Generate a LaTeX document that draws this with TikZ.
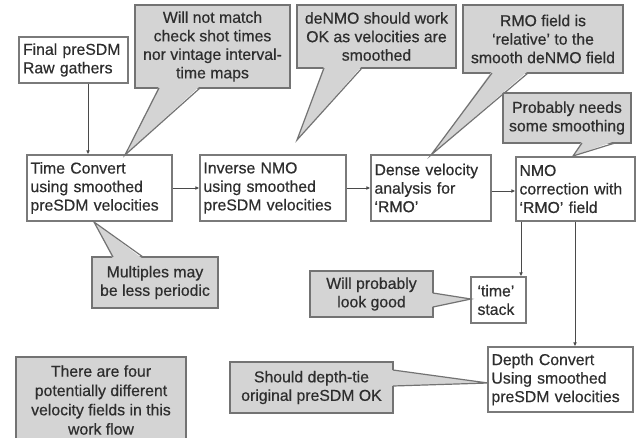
\documentclass[tikz,border=0pt]{standalone}
\usepackage{fontspec}
\setmainfont{Liberation Sans}[FakeBold=0.5]
\usetikzlibrary{arrows.meta,calc}
\definecolor{txt}{HTML}{2E2E2E}
\definecolor{bord}{HTML}{7A7A7A}
\definecolor{cfill}{HTML}{D4D4D4}
\definecolor{cbord}{HTML}{737373}
\definecolor{lin}{HTML}{4A4A4A}
\begin{document}
\begin{tikzpicture}[x=1pt,y=-1pt,
  every node/.style={font=\fontsize{15.8}{18.5}\selectfont, text=txt},
  flowbox/.style={draw=bord, line width=1.2pt, fill=white, inner sep=3pt, align=left},
  callout/.style={draw=cbord, line width=1.2pt, fill=cfill, inner sep=2pt, align=center},
  wedgefill/.style={fill=cfill},
  wedgeline/.style={draw=cbord, line width=1.2pt, line join=miter},
  arr/.style={draw=lin, line width=1pt, -{Latex[length=4pt,width=3.8pt]}}]
\fill[white] (0,0) rectangle (638,437);
\useasboundingbox (0,0) rectangle (638,437);

% flow boxes
\node[flowbox, minimum width=109, minimum height=46, text width=101] (raw) at (73.5,60) {Final preSDM\\Raw gathers};
\node[flowbox, minimum width=145, minimum height=66, text width=138] (tc) at (99.5,188) {Time Convert\\using smoothed\\preSDM velocities};
\node[flowbox, minimum width=146, minimum height=66, text width=139] (inmo) at (273,188) {Inverse NMO\\using smoothed\\preSDM velocities};
\node[flowbox, minimum width=120, minimum height=66, text width=113] (dense) at (431,188) {Dense velocity\\analysis for\\`RMO'};
\node[flowbox, minimum width=119, minimum height=64, text width=112] (nmo) at (575.5,189) {NMO\\correction with\\`RMO' field};
\node[flowbox, minimum width=55, minimum height=46, text width=42, inner sep=6pt] (tstack) at (498.5,300) {`time'\\stack};
\node[flowbox, minimum width=145, minimum height=65, text width=138] (depth) at (560.5,379.5) {Depth Convert\\Using smoothed\\preSDM velocities};

% connectors
\coordinate (xa) at (88,0);
\coordinate (ya) at (0,191);
\coordinate (xb) at (521,0);
\coordinate (xc) at (575,0);
\draw[arr] (raw.south -| xa) -- (tc.north -| xa);
\draw[arr] (tc.east) -- (inmo.west);
\draw[arr] (inmo.east) -- (dense.west);
\draw[arr] (dense.east |- ya) -- (nmo.west |- ya);
\draw[arr] (nmo.south -| xb) -- (tstack.north -| xb);
\draw[arr] (nmo.south -| xc) -- (depth.north -| xc);

% callouts
\node[callout, minimum width=155, minimum height=83] (c1) at (212.5,46.5) {Will not match\\check shot times\\nor vintage interval-\\time maps};
\node[callout, minimum width=159, minimum height=63] (c2) at (376.5,36.5) {deNMO should work\\OK as velocities are\\smoothed};
\node[callout, minimum width=160, minimum height=68] (c3) at (543,39) {RMO field is\\`relative' to the\\smooth deNMO field};
\node[callout, minimum width=128, minimum height=50] (c4) at (567,118) {Probably needs\\some smoothing};
\node[callout, minimum width=126, minimum height=51] (c5) at (155,282.5) {Multiples may\\be less periodic};
\node[callout, minimum width=170, minimum height=86, font=\fontsize{15.8}{19.3}\selectfont] (c6) at (101,400) {There are four\\potentially different\\velocity fields in this\\work flow};
\node[callout, minimum width=163, minimum height=51] (c7) at (311.5,387.5) {Should depth-tie\\original preSDM OK};
\node[callout, minimum width=123, minimum height=46] (c8) at (371.5,294) {Will probably\\look good};

% callout pointers
\fill[wedgefill] (159,86) -- (125,155) -- (200,86) -- cycle;
\draw[wedgeline] (159,88) -- (125,155) -- (200,88);
\fill[wedgefill] (324,66) -- (297,140) -- (362,66) -- cycle;
\draw[wedgeline] (324,68) -- (297,140) -- (362,68);
\fill[wedgefill] (492,71) -- (431,155) -- (528,71) -- cycle;
\draw[wedgeline] (492,73) -- (431,155) -- (528,73);
\fill[wedgefill] (582,141) -- (573,156) -- (615,141) -- cycle;
\draw[wedgeline] (582,143) -- (573,156) -- (615,143);
\fill[wedgefill] (113,259) -- (94,222) -- (143,259) -- cycle;
\draw[wedgeline] (113,257) -- (94,222) -- (143,257);
\fill[wedgefill] (431,293) -- (471,299) -- (431,307) -- cycle;
\draw[wedgeline] (433,293) -- (471,299) -- (433,307);
\fill[wedgefill] (391,370) -- (488,383) -- (391,386) -- cycle;
\draw[wedgeline] (393,370) -- (488,383) -- (393,386);
\end{tikzpicture}
\end{document}
